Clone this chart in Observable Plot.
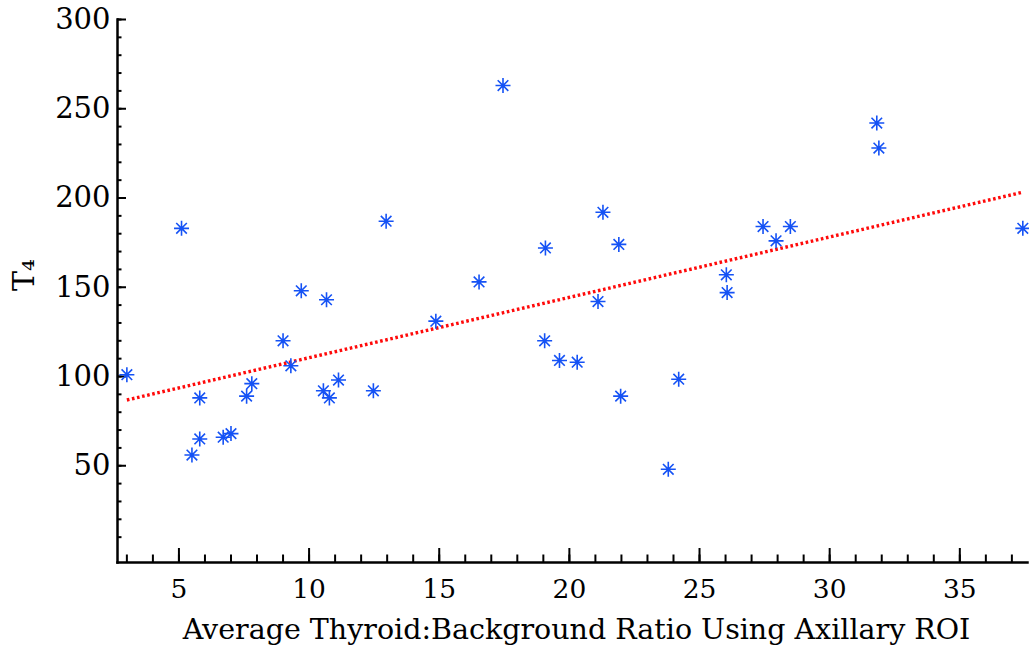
<!DOCTYPE html>
<html>
<head>
<meta charset="utf-8">
<script src="https://cdn.jsdelivr.net/npm/d3@7"></script>
<script src="https://cdn.jsdelivr.net/npm/@observablehq/plot@0.6"></script>
<style>
  html, body { margin: 0; padding: 0; background: #fff; }
  #chart svg { display: block; }
</style>
</head>
<body>
<div id="chart"></div>
<script>
// Data
const ratio = [3.0, 5.1, 5.5, 5.8, 5.8, 6.7, 7.0, 7.6, 7.8, 9.0, 9.3, 9.7, 10.55, 10.67, 10.78, 11.13, 12.47, 12.96, 14.87, 16.53, 17.45, 19.05, 19.08, 19.62, 20.3, 21.1, 21.29, 21.9, 21.97, 23.8, 24.2, 26.03, 26.06, 27.44, 27.94, 28.49, 31.81, 31.89, 37.42];
const t4 = [101, 183, 56, 88, 65, 66, 68, 89, 96, 120, 106, 148, 92, 143, 88, 98, 92, 187, 131, 153, 263, 120, 172, 109, 108, 142, 192, 174, 89, 48, 98.5, 157, 147, 184, 176, 184, 242, 228, 183];

const xMajorTicks = [5, 10, 15, 20, 25, 30, 35];
const xMinorTicks = d3.range(3, 38);
const yMajorTicks = [50, 100, 150, 200, 250, 300];
const yMinorTicks = d3.range(10, 301, 10);
const xTitle = "Average Thyroid:Background Ratio Using Axillary ROI";
const yTitle = "T₄";

const data = ratio.map((x, i) => ({x, y: t4[i]}));

// eight-armed asterisk marker
const asterisk8 = {
  draw(ctx, size) {
    const r = Math.sqrt(size / Math.PI);
    const d = r * Math.SQRT1_2;
    ctx.moveTo(-r, 0); ctx.lineTo(r, 0);
    ctx.moveTo(0, -r); ctx.lineTo(0, r);
    ctx.moveTo(-d, -d); ctx.lineTo(d, d);
    ctx.moveTo(-d, d); ctx.lineTo(d, -d);
  }
};

const blank = () => "";
const font = "DejaVu Serif";

const chart = Plot.plot({
  width: 1029,
  height: 650,
  marginLeft: 117,
  marginRight: 2,
  marginTop: 19,
  marginBottom: 88,
  style: {fontFamily: font, fontSize: "26px", color: "black", background: "white", overflow: "visible"},
  x: {domain: [2.64, 37.6]},
  y: {domain: [-4.2, 300]},
  marks: [
    // inward tick marks
    Plot.axisX(xMinorTicks, {tickSize: -7.5, tickFormat: blank, label: null, strokeWidth: 2}),
    Plot.axisX(xMajorTicks, {tickSize: -14, tickFormat: blank, label: null, strokeWidth: 2}),
    Plot.axisY(yMinorTicks, {tickSize: -4.5, tickFormat: blank, label: null, strokeWidth: 2}),
    Plot.axisY(yMajorTicks, {tickSize: -9, tickFormat: blank, label: null, strokeWidth: 2}),
    // tick labels
    Plot.axisX(xMajorTicks, {tickSize: 0, tickPadding: 17, label: null, fontSize: 26.5}),
    Plot.axisY(yMajorTicks, {tickSize: 0, tickPadding: 7, label: null, fontSize: 29}),
    // axis lines
    Plot.frame({anchor: "left", strokeWidth: 2.5}),
    Plot.frame({anchor: "bottom", strokeWidth: 2.5}),
    // titles
    Plot.text([xTitle], {frameAnchor: "bottom", dy: 56, dx: 4, lineAnchor: "top", fontSize: 28.5}),
    Plot.text([yTitle], {frameAnchor: "left", dx: -93, rotate: -90, fontSize: 30}),
    // regression line
    Plot.linearRegressionY(data, {x: "x", y: "y", ci: 0, stroke: "#ff0a0a", strokeWidth: 3.4, strokeDasharray: "2.6,2.6", strokeLinecap: "butt"}),
    // points
    Plot.dot(data, {x: "x", y: "y", symbol: asterisk8, r: 7.5, stroke: "#1552f5", strokeWidth: 1.6, fill: "none"})
  ]
});

document.getElementById("chart").appendChild(chart);
</script>
</body>
</html>
